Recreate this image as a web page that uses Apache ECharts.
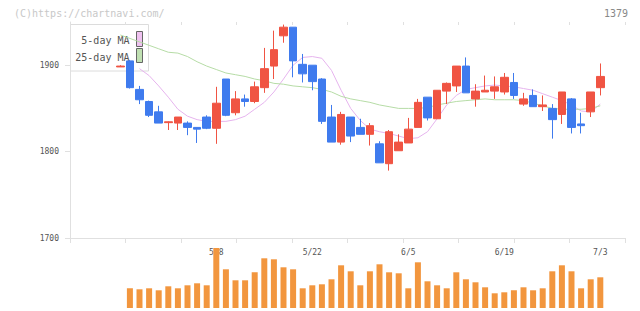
<!DOCTYPE html>
<html>
<head>
<meta charset="utf-8">
<script src="https://cdn.jsdelivr.net/npm/echarts@6/dist/echarts.min.js"></script>
<style>
  html, body { margin: 0; padding: 0; background: #fff; }
  #chart { width: 640px; height: 311px; }
</style>
</head>
<body>
<div id="chart"></div>
<script>
  // trading days (M/D)
  const dates = ['4/19', '4/22', '4/23', '4/24', '4/25', '4/26', '4/30', '5/1', '5/2', '5/7',
    '5/8', '5/9', '5/10', '5/13', '5/14', '5/15', '5/16', '5/17', '5/20', '5/21',
    '5/22', '5/23', '5/24', '5/27', '5/28', '5/29', '5/30', '5/31', '6/3', '6/4',
    '6/5', '6/6', '6/7', '6/10', '6/11', '6/12', '6/13', '6/14', '6/17', '6/18',
    '6/19', '6/20', '6/21', '6/24', '6/25', '6/26', '6/27', '6/28', '7/1', '7/2', '7/3'];
  const labelDates = ['5/8', '5/22', '6/5', '6/19', '7/3'];

  const opens = [1898, 1905, 1872, 1858, 1846, 1833.5, 1833, 1833, 1828, 1840,
    1827, 1884, 1845, 1861, 1858, 1874, 1899, 1934, 1944, 1901,
    1900, 1884, 1840, 1811, 1840, 1828, 1820, 1809, 1786, 1801,
    1810, 1828, 1863, 1838, 1870, 1876, 1899, 1861, 1869, 1870,
    1869, 1880, 1855, 1865, 1852, 1850, 1843, 1861, 1832, 1846, 1874];
  const closes = [1899, 1874, 1860, 1842, 1833, 1834.5, 1840, 1828, 1826, 1827,
    1856, 1842, 1861, 1858, 1875, 1896, 1918, 1944, 1905, 1890,
    1881, 1835, 1811, 1843, 1818, 1820, 1830, 1787, 1823, 1811,
    1826, 1857, 1839, 1871, 1879, 1899, 1868, 1870, 1871, 1875,
    1886, 1865, 1861, 1852, 1854, 1837, 1869, 1828, 1830, 1869, 1887];
  const lows = [1898, 1873, 1855, 1840, 1833, 1825, 1825, 1819, 1810, 1826,
    1809, 1841, 1842, 1852, 1856, 1868, 1884, 1926, 1886, 1880,
    1871, 1832, 1811, 1808, 1811, 1820, 1807, 1787, 1778, 1801,
    1810, 1828, 1836, 1838, 1855, 1869, 1868, 1852, 1869, 1861,
    1866, 1861, 1853, 1852, 1847, 1815, 1832, 1821, 1821, 1840, 1865];
  const highs = [1900, 1906, 1876, 1859, 1853, 1835, 1840, 1835, 1828, 1842,
    1875, 1884, 1870, 1866, 1881, 1920, 1940, 1947, 1944, 1913,
    1900, 1885, 1854, 1846, 1840, 1838, 1833, 1812, 1825, 1820,
    1839, 1861, 1863, 1871, 1880, 1899, 1909, 1878, 1888, 1887,
    1891, 1891, 1868, 1872, 1865, 1855, 1869, 1862, 1845, 1869, 1902];

  // volume, x100 shares
  const volumes = [null, 197, 187, 197, 177, 217, 197, 227, 247, 227,
    600, 387, 277, 277, 357, 497, 487, 407, 387, 197,
    227, 237, 287, 427, 367, 227, 367, 437, 357, 347,
    197, 457, 267, 227, 197, 357, 287, 257, 207, 147,
    157, 177, 207, 177, 197, 367, 427, 367, 197, 287, 307];

  const ma5 = [null, null, 1896, 1888, 1876, 1863, 1849, 1841, 1837, 1835,
    1835, 1835, 1837, 1841, 1849, 1857, 1869, 1884, 1900, 1909,
    1910, 1908, 1894, 1871, 1850, 1836, 1826, 1823, 1821, 1818,
    1815, 1816, 1823, 1838, 1854, 1865, 1872, 1874, 1876, 1877,
    1876, 1875, 1873, 1871, 1867, 1863, 1859, 1854, 1847, 1846, 1855];
  const ma25 = [1935, 1931, 1927, 1923, 1919, 1915, 1914, 1910, 1904, 1899,
    1895, 1891, 1889, 1887, 1884, 1882, 1879, 1878, 1876, 1875,
    1874, 1872, 1869, 1864, 1861, 1859, 1857, 1854, 1852, 1850,
    1850, 1850, 1851, 1854, 1856, 1858, 1859, 1860, 1861, 1860,
    1860, 1860, 1859, 1856, 1853, 1850, 1849, 1849, 1849, 1850, 1853];

  const maNames = ['5-day MA', '25-day MA'];
  const priceTicks = [1700, 1800, 1900];
  const frameTicks = [0, 1, 2, 3, 4, 5, 6, 7, 8, 9, 10];

  const candles = opens.map((o, i) => [o, closes[i], lows[i], highs[i]]);

  const mono = 'DejaVu Sans Mono';
  const axisGray = '#e0e0e0';
  const labelGray = '#555';

  const chart = echarts.init(document.getElementById('chart'), null, { renderer: 'svg' });

  const option = {
    animation: false,
    grid: [
      { left: 115.5, right: 34.9, top: 22, bottom: 73 },   // candles
      { left: 115.5, right: 34.9, top: 248, bottom: 3 },   // volume
      { left: 70, right: 15, top: 22, bottom: 73 },        // frame
    ],
    xAxis: [
      {
        type: 'category', gridIndex: 0, data: dates, boundaryGap: true,
        axisLine: { show: false }, axisTick: { show: false },
        axisLabel: {
          interval: (idx, val) => labelDates.includes(val),
          margin: 10, fontFamily: mono, fontSize: 8, color: labelGray,
        },
        splitLine: { show: false },
      },
      {
        type: 'category', gridIndex: 1, data: dates, boundaryGap: true, show: false,
      },
      {
        type: 'value', gridIndex: 2, min: 0, max: 10,
        axisLine: { show: true, lineStyle: { color: axisGray } },
        axisTick: { show: true, customValues: frameTicks, length: 5, lineStyle: { color: axisGray } },
        axisLabel: { show: false }, splitLine: { show: false },
      },
      {
        type: 'value', gridIndex: 2, min: 0, max: 10,
        axisLine: { show: false },
        axisTick: { show: true, inside: true, customValues: frameTicks, length: 3, lineStyle: { color: axisGray } },
        axisLabel: { show: false }, splitLine: { show: false },
      },
    ],
    yAxis: [
      { type: 'value', gridIndex: 0, min: 1700, max: 1950, show: false },
      { type: 'value', gridIndex: 1, min: 0, max: 600, show: false },
      {
        type: 'value', gridIndex: 2, min: 1700, max: 1950,
        axisLine: { show: true, lineStyle: { color: axisGray } },
        axisTick: { show: true, customValues: priceTicks, length: 5, lineStyle: { color: axisGray } },
        axisLabel: {
          customValues: priceTicks, margin: 11, fontFamily: mono, fontSize: 8, color: labelGray,
          formatter: (v) => String(v),
        },
        splitLine: { show: false },
      },
      {
        type: 'value', gridIndex: 2, min: 1700, max: 1950,
        axisLine: { show: false },
        axisTick: { show: true, inside: true, customValues: priceTicks, length: 3, lineStyle: { color: axisGray } },
        axisLabel: { show: false }, splitLine: { show: false },
      },
    ],
    series: [
      {
        name: maNames[0], type: 'line', xAxisIndex: 0, yAxisIndex: 0, data: ma5,
        showSymbol: false, lineStyle: { color: '#e6b4ee', width: 1 }, z: 1,
      },
      {
        name: maNames[1], type: 'line', xAxisIndex: 0, yAxisIndex: 0, data: ma25,
        showSymbol: false, lineStyle: { color: '#b6dca6', width: 1 }, z: 1,
      },
      {
        type: 'candlestick', xAxisIndex: 0, yAxisIndex: 0, data: candles,
        barWidth: 8,
        itemStyle: {
          color: '#f05443', borderColor: '#f05443',
          color0: '#3f7bee', borderColor0: '#3f7bee', borderWidth: 1,
        },
        z: 2,
      },
      {
        type: 'bar', xAxisIndex: 1, yAxisIndex: 1, data: volumes,
        barWidth: 6, itemStyle: { color: '#f2963e' }, z: 2,
      },
    ],
    graphic: [
      {
        type: 'text', left: 14, top: 8,
        style: { text: '(C)https://chartnavi.com/', font: '10px ' + mono, fill: '#c8c8c8' },
      },
      {
        type: 'text', right: 12, top: 8,
        style: { text: '1379', font: '10px ' + mono, fill: '#888' },
      },
      {
        type: 'group', z: 100,
        children: [
          { type: 'rect', shape: { x: 70.5, y: 24.5, width: 78, height: 46.5 },
            style: { fill: '#fff', stroke: '#dcdcdc', lineWidth: 1 } },
          { type: 'text', style: { text: maNames[0], x: 129.5, y: 40.5, align: 'right', verticalAlign: 'middle',
              font: '10px ' + mono, fill: labelGray } },
          { type: 'rect', shape: { x: 136.5, y: 31.5, width: 6, height: 15 },
            style: { fill: '#efc2f0', stroke: '#666', lineWidth: 1 } },
          { type: 'text', style: { text: maNames[1], x: 129.5, y: 57, align: 'right', verticalAlign: 'middle',
              font: '10px ' + mono, fill: labelGray } },
          { type: 'rect', shape: { x: 136.5, y: 48.5, width: 6, height: 14 },
            style: { fill: '#c0e0b2', stroke: '#666', lineWidth: 1 } },
        ],
      },
    ],
  };

  chart.setOption(option);
</script>
</body>
</html>
